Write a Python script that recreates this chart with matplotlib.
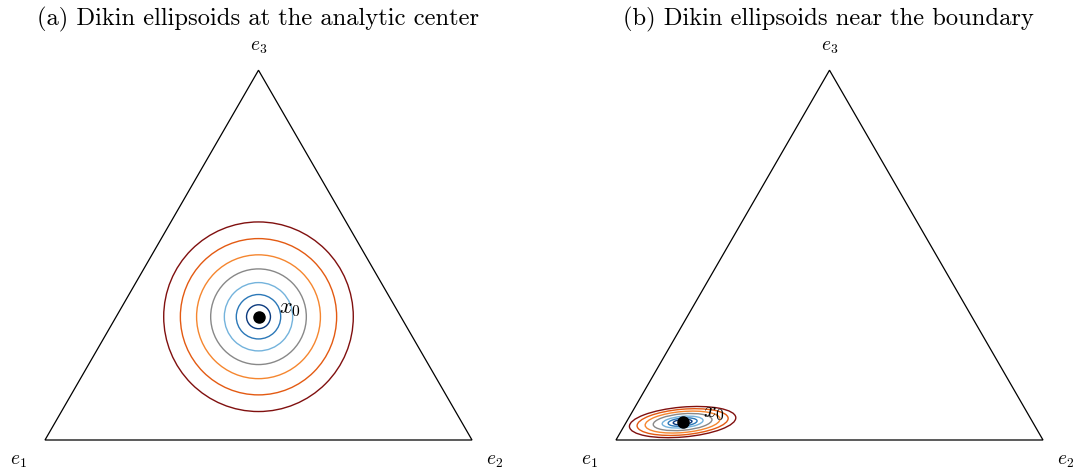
import matplotlib
matplotlib.use("Agg")
import matplotlib.pyplot as plt
from matplotlib.patches import Ellipse
import numpy as np

plt.rcParams['font.family'] = ['cmr10', 'DejaVu Serif']
plt.rcParams['mathtext.fontset'] = 'cm'
plt.rcParams['axes.unicode_minus'] = False

# triangle vertices (unit equilateral simplex)
vert_x = [0.0, 1.0, 0.5]
vert_y = [0.0, 0.0, np.sqrt(3) / 2]
vert_labels = ['$e_1$', '$e_2$', '$e_3$']

# ring colours, inner to outer
ring_colors = ['#0b3a7e', '#2b78b8', '#74b3dc', '#888888', '#f5862f', '#e35a12', '#80100f']

# (a) circles at the analytic center
center_a = (0.5, np.sqrt(3) / 6)
radii_a = [0.028, 0.052, 0.080, 0.112, 0.145, 0.183, 0.222]

# (b) ellipses near the boundary (semi-axes, tilt in degrees)
center_b = (0.156, 0.042)
half_w_b = [0.022, 0.034, 0.048, 0.069, 0.088, 0.107, 0.125]
half_h_b = [0.0062, 0.0095, 0.0134, 0.0193, 0.0246, 0.030, 0.035]
tilt_b = 5

titles = ['(a) Dikin ellipsoids at the analytic center',
          '(b) Dikin ellipsoids near the boundary']

fig = plt.figure(figsize=(10.76, 4.70), dpi=100)
W, H = 1076, 470
scale = 427.0
xlo, xhi, ylo, yhi = -0.1, 1.1, -0.07, 0.95
origins = [45, 616]  # pixel of e1 in each panel

axes = []
for ox in origins:
    left = (ox - (0 - xlo) * scale) / W
    bottom = (H - 440 - (0 - ylo) * scale) / H
    ax = fig.add_axes([left, bottom, (xhi - xlo) * scale / W, (yhi - ylo) * scale / H])
    ax.set_xlim(xlo, xhi)
    ax.set_ylim(ylo, yhi)
    ax.set_aspect('equal')
    ax.axis('off')
    ax.fill(vert_x, vert_y, facecolor='none', edgecolor='black', linewidth=0.9)
    ax.text(vert_x[0] - 0.062, vert_y[0] - 0.05, vert_labels[0], fontsize=14, ha='center', va='center')
    ax.text(vert_x[1] + 0.053, vert_y[1] - 0.05, vert_labels[1], fontsize=14, ha='center', va='center')
    ax.text(vert_x[2], vert_y[2] + 0.054, vert_labels[2], fontsize=14, ha='center', va='center')
    axes.append(ax)

ax = axes[0]
for r, c in zip(radii_a, ring_colors):
    ax.add_patch(Ellipse(center_a, 2 * r, 2 * r, facecolor='none', edgecolor=c, linewidth=1.0))
ax.plot(*center_a, 'o', color='black', markersize=8)
ax.text(center_a[0] + 0.073, center_a[1] + 0.018, '$x_0$', fontsize=16, ha='center', va='center')

ax = axes[1]
for w, h, c in zip(half_w_b, half_h_b, ring_colors):
    ax.add_patch(Ellipse(center_b, 2 * w, 2 * h, angle=tilt_b, facecolor='none', edgecolor=c, linewidth=1.0))
ax.plot(*center_b, 'o', color='black', markersize=8)
ax.text(center_b[0] + 0.073, center_b[1] + 0.02, '$x_0$', fontsize=16, ha='center', va='center')

fig.text(258 / W, 1 - 19 / H, titles[0], fontsize=17.7, ha='center', va='center')
fig.text(828 / W, 1 - 19 / H, titles[1], fontsize=17.7, ha='center', va='center')

fig.savefig('out.png', dpi=100)
